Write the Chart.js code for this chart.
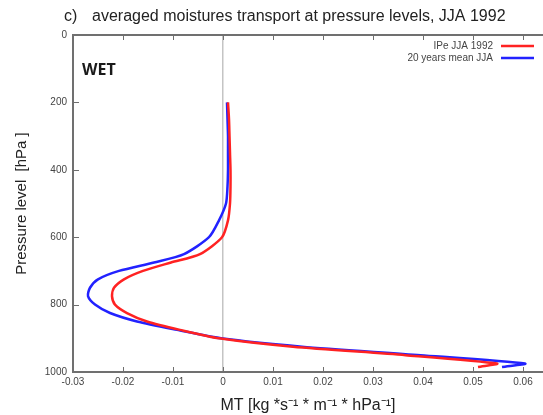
<!DOCTYPE html>
<html>
<head>
<meta charset="utf-8">
<script src="https://cdn.jsdelivr.net/npm/chart.js@4.4.0/dist/chart.umd.min.js"></script>
<style>
  html, body { margin: 0; padding: 0; background: #fff; }
  #wrap { width: 543px; height: 415px; }
</style>
</head>
<body>
<div id="wrap"><canvas id="mtChart"></canvas></div>
<script>
// pressure levels [hPa]
const levels = [200, 250, 300, 350, 400, 450, 500, 550, 600, 650, 675, 700, 725, 750, 775, 800, 825, 850, 875, 900, 925, 950, 975, 985];
// MT for JJA 1992 (IPe)
const ipe1992 = [0.0010, 0.0012, 0.0013, 0.0014, 0.0015, 0.0015, 0.0014, 0.0010, -0.0002, -0.0046, -0.0104, -0.0160, -0.0198, -0.0218, -0.0222, -0.0216, -0.0192, -0.0152, -0.0086, -0.0008, 0.0140, 0.0365, 0.0548, 0.0510];
// 20 years mean JJA
const mean20 = [0.0008, 0.0009, 0.0010, 0.0010, 0.0010, 0.0009, 0.0006, -0.0008, -0.0028, -0.0078, -0.0138, -0.0208, -0.0250, -0.0266, -0.0270, -0.0256, -0.0226, -0.0172, -0.0092, -0.0004, 0.0158, 0.0395, 0.0604, 0.0558];

const xTicks = [-0.03, -0.02, -0.01, 0, 0.01, 0.02, 0.03, 0.04, 0.05, 0.06];
const xTickLabels = ['-0.03', '-0.02', '-0.01', '0', '0.01', '0.02', '0.03', '0.04', '0.05', '0.06'];
const yTicks = [0, 200, 400, 600, 800, 1000];
const yTickLabels = ['0', '200', '400', '600', '800', '1000'];

const toPoints = (vals) => vals.map((v, i) => ({ x: v, y: levels[i] }));
const sans = '"Liberation Sans", Arial, sans-serif';

// frame, inward tick marks, legend, title and the WET label
const decorPlugin = {
    id: 'decor',
    afterDraw(chart) {
        const c = chart.ctx;
        const a = chart.chartArea;
        const xs = chart.scales.x, ys = chart.scales.y;
        c.save();
        c.strokeStyle = '#6e6e6e';
        c.lineWidth = 1;
        // inward ticks
        c.beginPath();
        xTicks.forEach(v => {
            const px = Math.round(xs.getPixelForValue(v)) + 0.5;
            c.moveTo(px, a.bottom); c.lineTo(px, a.bottom - 5);
            c.moveTo(px, a.top); c.lineTo(px, a.top + 5);
        });
        yTicks.forEach(v => {
            const py = Math.round(ys.getPixelForValue(v)) + 0.5;
            c.moveTo(a.left, py); c.lineTo(a.left + 6, py);
        });
        c.stroke();
        // frame: left, top, bottom
        c.lineWidth = 2;
        c.strokeStyle = '#707070';
        c.beginPath();
        c.moveTo(a.right, a.top); c.lineTo(a.left, a.top);
        c.lineTo(a.left, a.bottom); c.lineTo(a.right, a.bottom);
        c.stroke();
        // legend
        c.font = '10px ' + sans;
        c.textAlign = 'right';
        c.textBaseline = 'middle';
        chart.data.datasets.forEach((ds, i) => {
            const y = a.top + 11 + i * 12;
            c.fillStyle = '#444';
            c.fillText(ds.label, a.right - 50, y);
            c.strokeStyle = ds.borderColor;
            c.lineWidth = 2.5;
            c.beginPath();
            c.moveTo(a.right - 42, y); c.lineTo(a.right - 9, y);
            c.stroke();
        });
        // WET
        c.font = 'bold 16px "Open Sans", sans-serif';
        c.textAlign = 'left';
        c.fillStyle = '#1a1a1a';
        c.fillText('WET', a.left + 9, a.top + 35);
        // title
        c.fillStyle = '#222';
        c.font = '16px ' + sans;
        c.fillText('c)', a.left - 9, a.top - 18);
        c.fillText('averaged moistures transport at pressure levels, JJA 1992', a.left + 19, a.top - 18);
        c.restore();
    }
};

const ctx = document.getElementById('mtChart').getContext('2d');

new Chart(ctx, {
    type: 'scatter',
    data: {
        datasets: [{
            label: 'IPe JJA 1992',
            data: toPoints(ipe1992),
            showLine: true,
            borderColor: '#ff2222',
            borderWidth: 2.5,
            pointRadius: 0,
            tension: 0.25
        }, {
            label: '20 years mean JJA',
            data: toPoints(mean20),
            showLine: true,
            borderColor: '#2222ff',
            borderWidth: 2.5,
            pointRadius: 0,
            tension: 0.25
        }]
    },
    options: {
        responsive: true,
        maintainAspectRatio: false,
        animation: false,
        layout: { padding: { left: 0, right: 0, top: 35, bottom: 0 } },
        scales: {
            x: {
                type: 'linear',
                min: -0.03,
                max: 0.064,
                afterBuildTicks: (scale) => { scale.ticks = xTicks.map(v => ({ value: v })); },
                afterFit: (scale) => { scale.height = 43; },
                ticks: {
                    callback: (v) => xTickLabels[xTicks.indexOf(v)],
                    font: { family: sans, size: 10 },
                    color: '#444',
                    padding: 4,
                    maxRotation: 0
                },
                grid: {
                    color: (c) => (c.tick && c.tick.value === 0) ? '#c4c4c4' : 'transparent',
                    lineWidth: 1.5,
                    drawTicks: false
                },
                border: { display: false },
                title: {
                    display: true,
                    text: 'MT [kg *s\u207B\u00B9 * m\u207B\u00B9 * hPa\u207B\u00B9]',
                    font: { family: sans, size: 16 },
                    color: '#222',
                    padding: { top: 1, bottom: 0 }
                }
            },
            y: {
                type: 'linear',
                reverse: true,
                min: 0,
                max: 1000,
                afterBuildTicks: (scale) => { scale.ticks = yTicks.map(v => ({ value: v })); },
                afterFit: (scale) => { scale.width = 73; },
                ticks: {
                    callback: (v) => yTickLabels[yTicks.indexOf(v)],
                    font: { family: sans, size: 10 },
                    color: '#444',
                    padding: 6
                },
                grid: { display: false, drawTicks: false },
                border: { display: false },
                title: {
                    display: true,
                    text: 'Pressure level  [hPa ]',
                    font: { family: sans, size: 15 },
                    color: '#222',
                    padding: { top: 13, bottom: 6 }
                }
            }
        },
        plugins: {
            legend: { display: false },
            tooltip: { enabled: false },
            title: { display: false }
        }
    },
    plugins: [decorPlugin]
});
</script>
</body>
</html>
